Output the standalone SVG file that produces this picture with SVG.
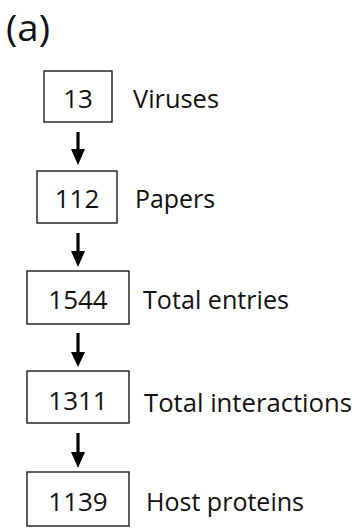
<svg xmlns="http://www.w3.org/2000/svg" width="356" height="529" viewBox="0 0 356 529">
<style>
.box{fill:#fff;stroke:#1a1a1a;stroke-width:1.4}
.num{font-family:"Open Sans","Liberation Sans",sans-serif;font-size:26px;fill:#111;text-anchor:middle}
.lbl{font-family:"Open Sans","Liberation Sans",sans-serif;font-size:26px;fill:#111}
.arr{stroke:#000;stroke-width:3.2;fill:none}
.head{fill:#000}
</style>
<rect width="356" height="529" fill="#fff"/>
<text x="6" y="41" font-family="'Open Sans','Liberation Sans',sans-serif" font-size="37" textLength="44" lengthAdjust="spacingAndGlyphs" fill="#111">(a)</text>
<g id="connectors">
<line class="arr" x1="78" y1="132" x2="78" y2="150"/><polygon class="head" points="71,149 85,149 78,165"/>
<line class="arr" x1="78" y1="233" x2="78" y2="252"/><polygon class="head" points="71,251 85,251 78,267"/>
<line class="arr" x1="78" y1="333" x2="78" y2="353"/><polygon class="head" points="71,352 85,352 78,367"/>
<line class="arr" x1="78" y1="433" x2="78" y2="453"/><polygon class="head" points="71,452 85,452 78,468"/>
</g>
<g id="n1"><rect class="box" x="44" y="71" width="68" height="51"/><text class="num" x="78" y="107.5">13</text><text class="lbl" x="133" y="107.5" textLength="86" lengthAdjust="spacingAndGlyphs">Viruses</text></g>
<g id="n2"><rect class="box" x="37" y="171" width="80" height="52"/><text class="num" x="77" y="208">112</text><text class="lbl" x="135" y="208" textLength="80" lengthAdjust="spacingAndGlyphs">Papers</text></g>
<g id="n3"><rect class="box" x="27" y="271" width="102" height="53"/><text class="num" x="78" y="309">1544</text><text class="lbl" x="143" y="309" textLength="146" lengthAdjust="spacingAndGlyphs">Total entries</text></g>
<g id="n4"><rect class="box" x="27" y="371" width="102" height="52"/><text class="num" x="78" y="409.5">1311</text><text class="lbl" x="144" y="412" textLength="208" lengthAdjust="spacingAndGlyphs">Total interactions</text></g>
<g id="n5"><rect class="box" x="27" y="472" width="102" height="54"/><text class="num" x="78" y="511">1139</text><text class="lbl" x="146" y="511" textLength="158" lengthAdjust="spacingAndGlyphs">Host proteins</text></g>
</svg>
